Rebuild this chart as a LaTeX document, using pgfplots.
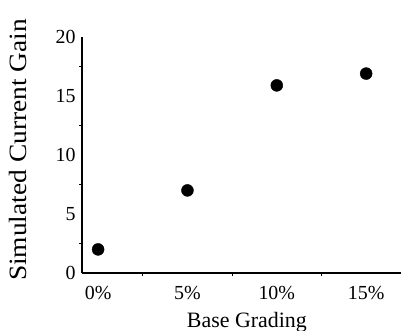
\documentclass[border=0pt]{standalone}
\usepackage{fontspec}
\setmainfont{Liberation Serif}
\newfontfamily\ylabfont{Liberation Serif}[FakeStretch=1.1]
\usepackage{pgfplots}
\pgfplotsset{compat=1.18}
\begin{document}
\begin{tikzpicture}
\begin{axis}[
  at={(0,0)}, anchor=south west,
  scale only axis,
  width=319bp, height=236bp,
  xmin=-0.18, xmax=3.39,
  ymin=0, ymax=20,
  axis x line*=bottom, axis y line*=left,
  axis line style={line width=1.4bp, -},
  xtick={0,1,2,3},
  xticklabels={0\%,5\%,10\%,15\%},
  minor xtick={0.5,1.5,2.5},
  ytick={0,5,10,15,20},
  minor ytick={2.5,7.5,12.5,17.5},
  tick style={black, line width=1bp},
  major tick length=0bp,
  minor tick length=3bp,
  tick align=outside,
  /pgf/number format/assume math mode=true,
  tick label style={font=\fontsize{20}{20}\selectfont},
  xticklabel style={anchor=base, yshift=-26bp},
  yticklabel style={anchor=east, xshift=-3bp},
  xlabel={Base Grading},
  ylabel={\ylabfont Simulated Current Gain},
  xlabel style={font=\fontsize{22}{22}\selectfont, at={(axis description cs:0.517,0)}, anchor=center, yshift=-49bp},
  ylabel style={font=\fontsize{25}{25}\selectfont, at={(axis description cs:-0.2006,0.521)}, anchor=center},
  clip=false,
]
\addplot[only marks, mark=*, mark size=6bp, black] coordinates {
  (0,2.0) (1,7.0) (2,15.9) (3,16.9)
};
\end{axis}
\pgfresetboundingbox
\useasboundingbox (-82bp,-58bp) rectangle (319bp,273bp);
\end{tikzpicture}
\end{document}
